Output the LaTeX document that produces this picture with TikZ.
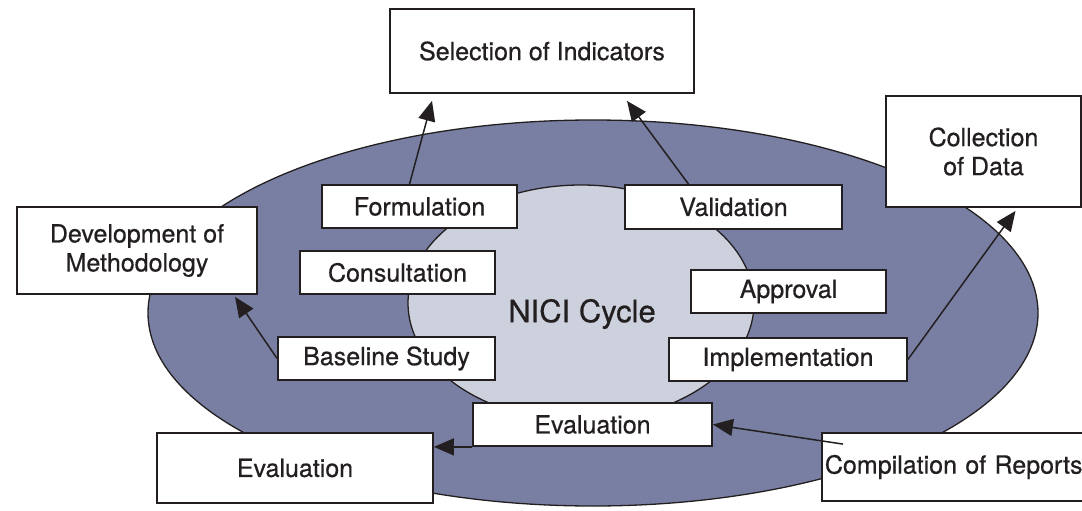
\documentclass[tikz,border=0pt]{standalone}
\usepackage{fontspec}
\setmainfont{TeX Gyre Heros}[FakeBold=0.6]
\usetikzlibrary{arrows.meta}
\definecolor{ringblue}{RGB}{120,127,163}
\definecolor{coreblue}{RGB}{205,209,221}
\definecolor{ink}{RGB}{35,31,32}
\tikzset{
  stage/.style={draw=ink, line width=1.8pt, fill=white, text=ink, inner sep=0pt,
    align=center, font=\fontsize{25}{29}\selectfont},
  link/.style={draw=ink, line width=1.5pt, -{Triangle[length=20pt,width=17pt]}},
}
\begin{document}
\begin{tikzpicture}[x=1pt,y=-1pt]
\useasboundingbox (0,0) rectangle (1082,511);
\clip (0,0) rectangle (1082,511);
\filldraw[fill=ringblue, draw=ink, line width=1.3pt] (593,313) ellipse [x radius=445, y radius=193];
\filldraw[fill=coreblue, draw=ink, line width=1.3pt] (581,303) ellipse [x radius=173, y radius=118];
\node[text=ink, font=\fontsize{31}{36}\selectfont] (cycle) at (582,314) {NICI Cycle};
% outer steps
\node[stage, minimum width=304pt, minimum height=84pt] (sel) at (542,51) {Selection of Indicators};
\node[stage, minimum width=195pt, minimum height=111pt] (coll) at (983.5,151.5) {Collection\\of Data};
\node[stage, minimum width=240pt, minimum height=87pt] (dev) at (137,250.5) {Development of\\Methodology};
\node[stage, minimum width=276pt, minimum height=70pt] (evout) at (295,468) {Evaluation};
\node[stage, anchor=west, text width=266pt, inner xsep=3pt, align=left, minimum height=68pt] (rep) at (821,467) {Compilation of Reports};
% steps of the cycle
\node[stage, minimum width=195pt, minimum height=43pt] (form) at (419.5,206.5) {Formulation};
\node[stage, minimum width=217pt, minimum height=44pt] (valid) at (733.5,207) {Validation};
\node[stage, minimum width=195pt, minimum height=43pt] (cons) at (397.5,272.5) {Consultation};
\node[stage, minimum width=195pt, minimum height=43pt] (appr) at (788.5,291.5) {Approval};
\node[stage, minimum width=217pt, minimum height=43pt] (base) at (386.5,358.5) {Baseline Study};
\node[stage, minimum width=238pt, minimum height=43pt] (impl) at (788,359.5) {Implementation};
\node[stage, minimum width=239pt, minimum height=43pt] (evin) at (592.5,424.5) {Evaluation};
% links
\draw[link] ([xshift=-10pt]form.north) -- ([xshift=-110pt,yshift=-7pt]sel.south);
\draw[link] ([xshift=-45pt]valid.north) -- ([xshift=85pt,yshift=-7pt]sel.south);
\draw[link] (base.west) -- ([xshift=98pt,yshift=-2pt]dev.south);
\draw[link] (impl.east) -- ([xshift=32pt,yshift=-3pt]coll.south);
\draw[link] (evin.south west) -- (evin.south west -| evout.east);
\coordinate (repin) at ([xshift=22pt,yshift=-12pt]rep.north west);
\draw[link] (repin) -- (evin.east);
\end{tikzpicture}
\end{document}
